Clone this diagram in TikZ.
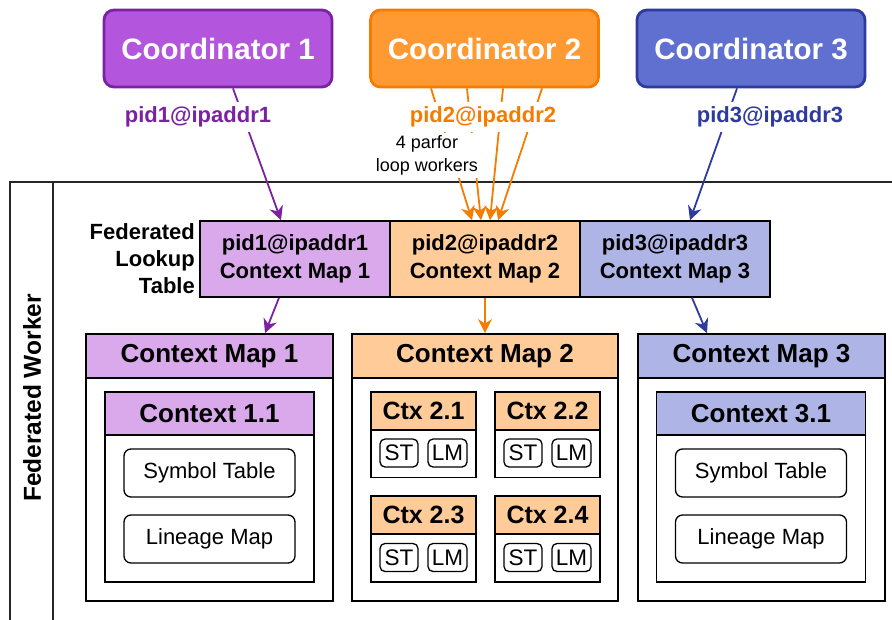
\documentclass[tikz,border=0pt]{standalone}
\usepackage{fontspec}
\setmainfont{Liberation Sans}
\usetikzlibrary{arrows.meta,calc}
\definecolor{pA}{HTML}{B455DD}
\definecolor{pB}{HTML}{7B22A3}
\definecolor{pL}{HTML}{D9A9EC}
\definecolor{oA}{HTML}{FF9A33}
\definecolor{oB}{HTML}{F57C00}
\definecolor{oL}{HTML}{FFCC99}
\definecolor{bA}{HTML}{6070D0}
\definecolor{bB}{HTML}{2E3A9E}
\definecolor{bL}{HTML}{AFB4E6}
\begin{document}
\begin{tikzpicture}[x=1pt,y=-1pt,
  coordbox/.style={draw, line width=2.8pt, rounded corners=10pt, minimum width=228pt, minimum height=77pt, inner sep=0pt, text=white, font=\fontsize{29.5}{34}\selectfont\bfseries},
  pidlbl/.style={fill=white, inner xsep=1.5pt, inner ysep=4.5pt, font=\fontsize{22}{26}\selectfont\bfseries},
  cellbox/.style={draw=black, line width=1.5pt, minimum width=190pt, minimum height=76pt, inner sep=0pt, align=center, font=\fontsize{22}{28}\selectfont\bfseries},
  cmbox/.style={draw=black, line width=1.8pt, minimum height=267pt, inner sep=0pt},
  cmhead/.style={draw=black, line width=1.8pt, minimum height=44pt, inner sep=0pt, font=\fontsize{26}{30}\selectfont\bfseries},
  ctxbox/.style={draw=black, line width=1.6pt, minimum width=209pt, minimum height=190pt, inner sep=0pt},
  ctxhead/.style={draw=black, line width=1.6pt, minimum width=209pt, minimum height=43pt, inner sep=0pt, font=\fontsize{26}{30}\selectfont\bfseries},
  smallctx/.style={draw=black, line width=1.6pt, minimum width=105pt, minimum height=86pt, inner sep=0pt},
  smallhead/.style={draw=black, line width=1.6pt, fill=oL, minimum width=105pt, minimum height=38pt, inner sep=0pt, font=\fontsize{25}{30}\selectfont\bfseries},
  itembox/.style={draw=black, line width=1.3pt, rounded corners=7pt, fill=white, minimum width=171pt, minimum height=48pt, inner sep=0pt, font=\fontsize{22}{26}\selectfont},
  tinybox/.style={draw=black, line width=1.3pt, rounded corners=5pt, fill=white, minimum height=28pt, inner sep=0pt, font=\fontsize{22.5}{26}\selectfont},
  arr/.style={line width=1.8pt, -{Stealth[length=14pt,width=14pt,inset=4.5pt]}}
]
\useasboundingbox (0,0) rectangle (892,619);
\clip (0,0) rectangle (892,619);

% Federated Worker swimlane
\draw[line width=1.5pt, draw=black!85] (10,182) rectangle (910,640);
\draw[line width=1.5pt, draw=black!85] (53,182) -- (53,640);
\node[rotate=90, font=\fontsize{24.5}{28}\selectfont\bfseries] (fw) at (32,398) {Federated Worker};

% Coordinators
\node[coordbox, fill=pA, draw=pB] (c1) at (218,48.5) {Coordinator 1};
\node[coordbox, fill=oA, draw=oB] (c2) at (484.5,48.5) {Coordinator 2};
\node[coordbox, fill=bA, draw=bB] (c3) at (751,48.5) {Coordinator 3};

% Lookup table
\node[cellbox, fill=pL] (t1) at (295,259) {pid1@ipaddr1\\Context Map 1};
\node[cellbox, fill=oL] (t2) at (485,259) {pid2@ipaddr2\\Context Map 2};
\node[cellbox, fill=bL] (t3) at (675,259) {pid3@ipaddr3\\Context Map 3};
\node[anchor=east, align=right, inner sep=0pt, font=\fontsize{22}{27}\selectfont\bfseries] (flt) at (195,259) {Federated\\Lookup\\Table};

% Context maps
\node[cmbox, minimum width=247pt] (cm1) at (209.5,467.5) {};
\node[cmhead, fill=pL, minimum width=247pt] (cm1h) at (209.5,356) {Context Map 1};
\node[cmbox, minimum width=266pt] (cm2) at (485,467.5) {};
\node[cmhead, fill=oL, minimum width=266pt] (cm2h) at (485,356) {Context Map 2};
\node[cmbox, minimum width=247pt] (cm3) at (761.5,467.5) {};
\node[cmhead, fill=bL, minimum width=247pt] (cm3h) at (761.5,356) {Context Map 3};

% Context 1.1
\node[ctxbox] (x11) at (209.5,487) {};
\node[ctxhead, fill=pL] (x11h) at (209.5,413.5) {Context 1.1};
\node[itembox] (st11) at (209.5,473) {Symbol Table};
\node[itembox] (lm11) at (209.5,539) {Lineage Map};

% Context 3.1
\node[ctxbox] (x31) at (761,487) {};
\node[ctxhead, fill=bL] (x31h) at (761,413.5) {Context 3.1};
\node[itembox] (st31) at (761,473) {Symbol Table};
\node[itembox] (lm31) at (761,539) {Lineage Map};

% Ctx 2.x
\node[smallctx] (x21) at (423.5,434.5) {};
\node[smallhead] (x21h) at (423.5,411) {Ctx 2.1};
\node[tinybox, minimum width=38pt] (st21) at (399,453) {ST};
\node[tinybox, minimum width=39pt] (lm21) at (447.5,453) {LM};

\node[smallctx] (x22) at (547.5,434.5) {};
\node[smallhead] (x22h) at (547.5,411) {Ctx 2.2};
\node[tinybox, minimum width=38pt] (st22) at (523,453) {ST};
\node[tinybox, minimum width=39pt] (lm22) at (571.5,453) {LM};

\node[smallctx] (x23) at (423.5,539) {};
\node[smallhead] (x23h) at (423.5,515) {Ctx 2.3};
\node[tinybox, minimum width=38pt] (st23) at (399,557.5) {ST};
\node[tinybox, minimum width=39pt] (lm23) at (447.5,557.5) {LM};

\node[smallctx] (x24) at (547.5,539) {};
\node[smallhead] (x24h) at (547.5,515) {Ctx 2.4};
\node[tinybox, minimum width=38pt] (st24) at (523,557.5) {ST};
\node[tinybox, minimum width=39pt] (lm24) at (571.5,557.5) {LM};

% Arrows coordinator -> lookup table
\draw[arr, draw=pB, fill=pB] ([xshift=15pt]c1.south) -- ([xshift=-14pt]t1.north);
\draw[arr, draw=oB, fill=oB] ([xshift=-53.5pt]c2.south) -- ([xshift=-13pt]t2.north);
\draw[arr, draw=oB, fill=oB] ([xshift=-17.5pt]c2.south) -- ([xshift=-4pt]t2.north);
\draw[arr, draw=oB, fill=oB] ([xshift=18.5pt]c2.south) -- ([xshift=5pt]t2.north);
\draw[arr, draw=oB, fill=oB] ([xshift=57.5pt]c2.south) -- ([xshift=13pt]t2.north);
\draw[arr, draw=bB, fill=bB] ([xshift=-14pt]c3.south) -- ([xshift=15pt]t3.north);

% Arrows lookup table -> context maps
\draw[arr, draw=pB, fill=pB] ([xshift=-16pt]t1.south) -- ([xshift=55.5pt]cm1h.north);
\draw[arr, draw=oB, fill=oB] (t2.south) -- (cm2h.north);
\draw[arr, draw=bB, fill=bB] ([xshift=17pt]t3.south) -- ([xshift=-54.5pt]cm3h.north);

% Labels
\node[pidlbl, text=pB] (l1) at (198,117) {pid1@ipaddr1};
\node[pidlbl, text=oB] (l2) at (483,117) {pid2@ipaddr2};
\node[pidlbl, text=bB] (l3) at (770,117) {pid3@ipaddr3};
\node[fill=white, align=center, inner xsep=1pt, inner ysep=3pt, font=\fontsize{18}{23}\selectfont] (pw) at (427,155.5) {4 parfor\\loop workers};
\end{tikzpicture}
\end{document}
